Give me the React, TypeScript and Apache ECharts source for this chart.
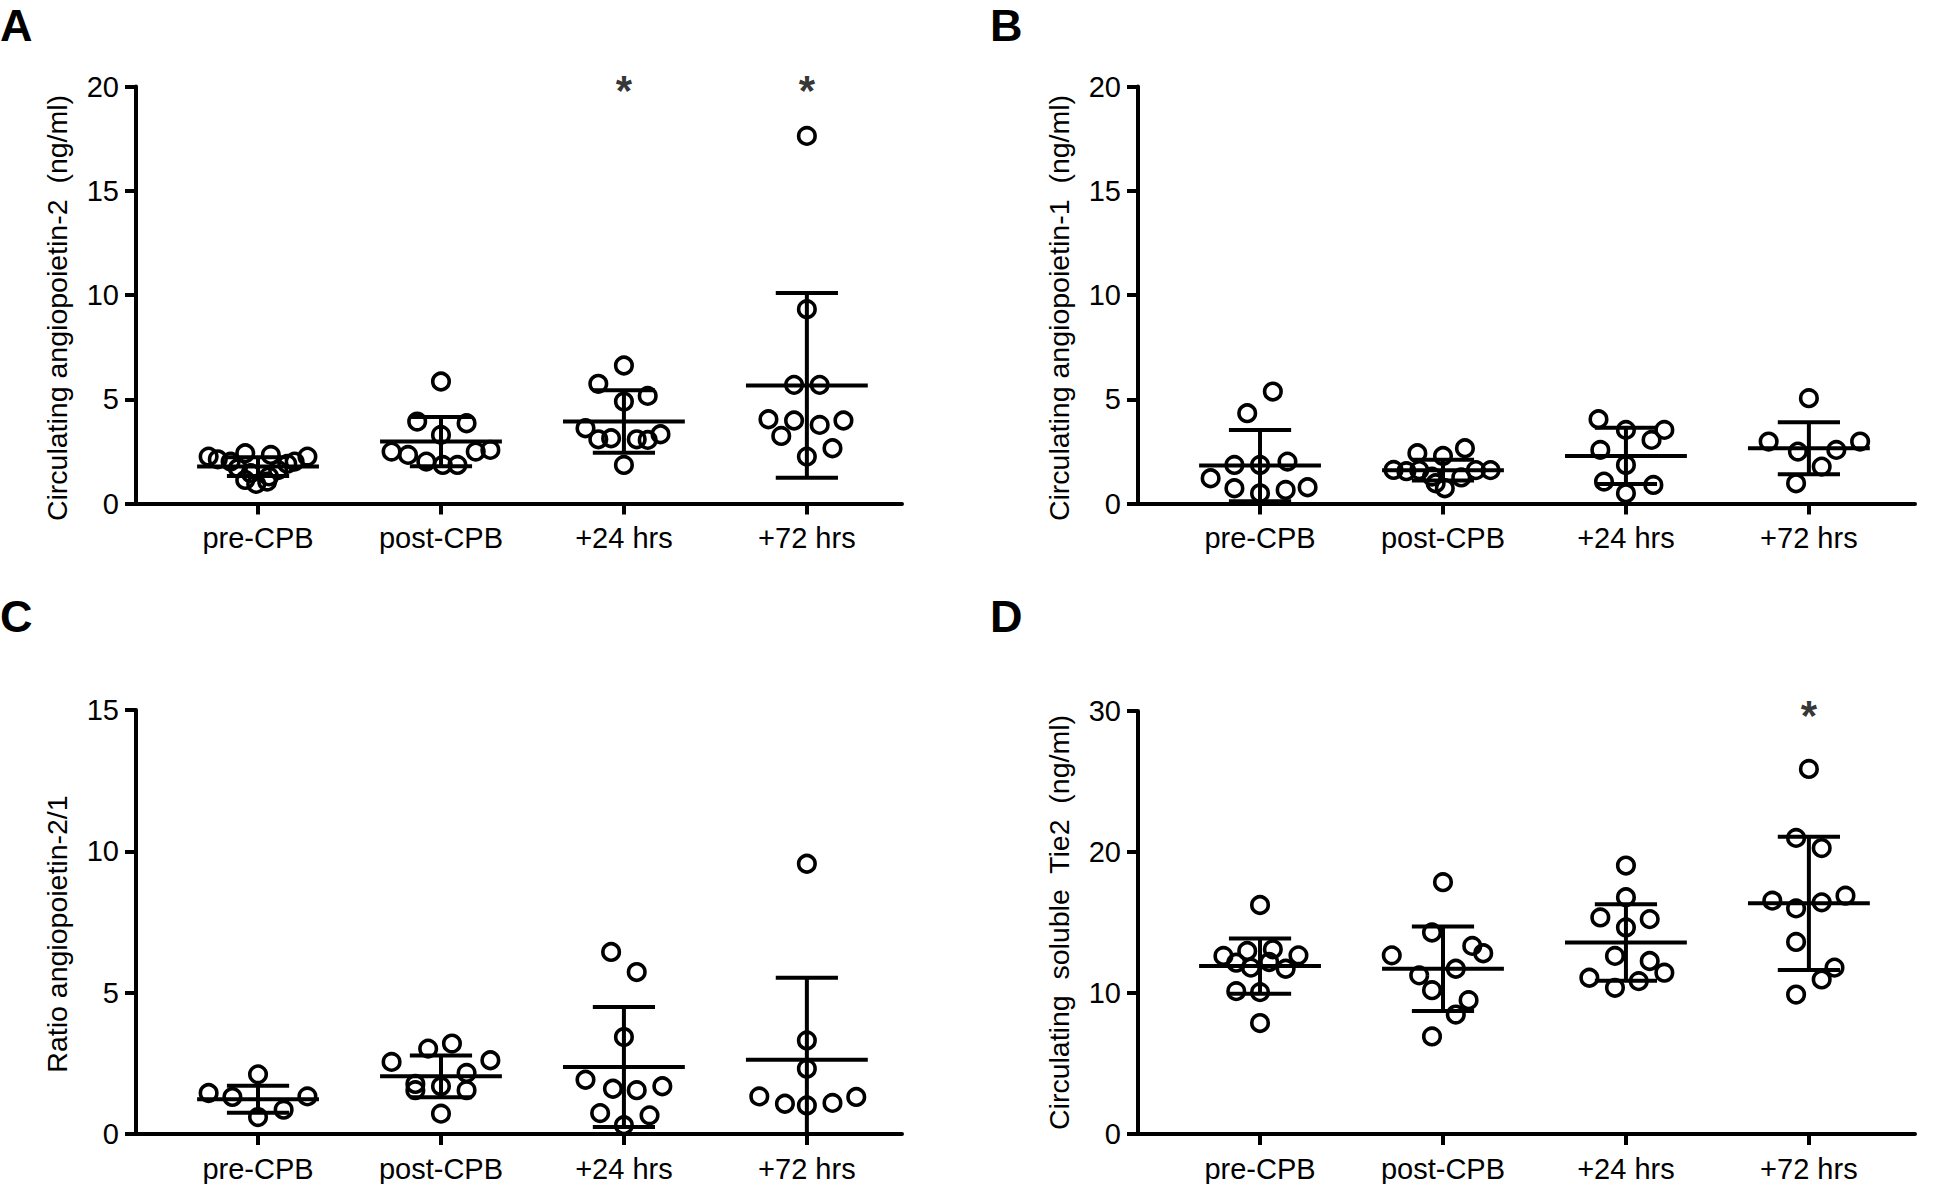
import React, { useEffect, useRef } from 'react';
import * as echarts from 'echarts';

const categories = ['pre-CPB', 'post-CPB', '+24 hrs', '+72 hrs'];

// Panel A: circulating angiopoietin-2 (ng/ml)
const ang2Values = [
  [2.25, 2.41, 2.33, 2.25, 2.12, 2.01, 2.01, 1.9, 1.69, 1.6, 1.45, 1.3, 1.13, 1.05, 0.94],
  [5.85, 3.93, 3.85, 3.29, 2.49, 2.33, 2.49, 2.57, 2.01, 1.85, 1.85],
  [6.62, 5.74, 5.16, 4.89, 3.61, 3.08, 3.13, 3.08, 3.05, 3.32, 1.85],
  [17.63, 9.32, 5.69, 5.69, 4.04, 3.98, 3.77, 3.98, 3.24, 2.65, 2.25],
];
const ang2Jitter = [
  [-0.27, -0.07, 0.07, 0.27, -0.22, -0.15, 0.2, 0.16, -0.11, 0.11, -0.04, 0.06, -0.07, 0.05, -0.01],
  [0, -0.13, 0.14, 0, -0.27, -0.18, 0.19, 0.27, -0.08, 0.01, 0.09],
  [0, -0.14, 0.13, 0, -0.21, -0.14, -0.07, 0.07, 0.13, 0.2, 0],
  [0, 0, -0.07, 0.07, -0.21, -0.07, 0.07, 0.2, -0.14, 0.14, 0],
];
const ang2Mean = [1.77, 2.97, 3.93, 5.66];
const ang2Sd = [0.45, 1.18, 1.5, 4.43];
const ang2Sig = ['', '', '*', '*'];

// Panel B: circulating angiopoietin-1 (ng/ml)
const ang1Values = [
  [5.37, 4.33, 1.85, 1.85, 2.01, 1.21, 0.73, 0.49, 0.65, 0.78],
  [2.65, 2.41, 2.28, 1.61, 1.55, 1.6, 1.6, 1.6, 1.29, 1.25, 0.97, 0.73],
  [4.04, 3.53, 3.53, 3.05, 2.57, 1.85, 1.05, 0.89, 0.49],
  [5.05, 2.97, 2.97, 2.49, 2.57, 1.77, 0.97],
];
const ang1Jitter = [
  [0.07, -0.07, -0.14, 0, 0.15, -0.27, -0.14, 0, 0.14, 0.26],
  [0.12, -0.14, 0, -0.27, -0.2, -0.13, 0.18, 0.26, -0.06, 0.1, -0.04, 0.01],
  [-0.15, 0, 0.21, 0.14, -0.14, 0, -0.12, 0.15, 0],
  [0, -0.22, 0.28, -0.06, 0.15, 0.07, -0.07],
];
const ang1Mean = [1.82, 1.6, 2.28, 2.65];
const ang1Sd = [1.71, 0.5, 1.35, 1.25];
const ang1Sig = ['', '', '', ''];

// Panel C: ratio angiopoietin-2/1
const ratioValues = [
  [2.11, 1.45, 1.31, 1.33, 0.86, 0.6],
  [3.2, 3.02, 2.61, 2.55, 2.16, 1.55, 1.77, 1.55, 1.69, 0.72],
  [6.44, 5.73, 3.43, 1.92, 1.6, 1.55, 1.69, 0.74, 0.66, 0.31],
  [9.56, 3.31, 2.31, 1.33, 1.07, 1.01, 1.1, 1.31],
];
const ratioJitter = [
  [0, -0.27, -0.14, 0.27, 0.14, 0],
  [0.06, -0.07, 0.27, -0.27, 0.14, 0.14, -0.14, -0.14, 0, 0],
  [-0.07, 0.07, 0, -0.21, -0.06, 0.07, 0.21, -0.13, 0.14, 0],
  [0, 0, 0, -0.26, -0.12, 0, 0.14, 0.27],
];
const ratioMean = [1.23, 2.04, 2.37, 2.63];
const ratioSd = [0.48, 0.74, 2.12, 2.9];
const ratioSig = ['', '', '', ''];

// Panel D: circulating soluble Tie2 (ng/ml)
const tie2Values = [
  [16.24, 12.63, 12.98, 13.1, 12.67, 12.15, 11.8, 12.2, 11.72, 10.13, 10.06, 7.87],
  [17.86, 14.29, 13.34, 12.82, 12.67, 11.72, 11.25, 10.2, 9.49, 8.47, 6.92],
  [19.04, 16.79, 15.36, 15.24, 14.65, 12.63, 12.27, 11.44, 11.08, 10.84, 10.37],
  [25.89, 21.0, 20.28, 16.55, 16.9, 16.43, 16.0, 13.62, 11.8, 10.96, 9.89],
];
const tie2Jitter = [
  [0, -0.2, -0.07, 0.07, 0.21, -0.13, -0.05, 0.05, 0.14, -0.13, 0, 0],
  [0, -0.06, 0.16, 0.22, -0.28, 0.07, -0.13, -0.06, 0.14, 0.07, -0.06],
  [0, 0, -0.14, 0.13, 0, -0.06, 0.13, 0.21, -0.2, 0.07, -0.06],
  [0, -0.07, 0.07, -0.2, 0.2, 0.07, -0.07, -0.07, 0.14, 0.07, -0.07],
];
const tie2Mean = [11.91, 11.72, 13.58, 16.36];
const tie2Sd = [1.96, 3.0, 2.72, 4.72];
const tie2Sig = ['', '', '', '*'];

const yTitles = [
  'Circulating angiopoietin-2  (ng/ml)',
  'Circulating angiopoietin-1  (ng/ml)',
  'Ratio angiopoietin-2/1',
  'Circulating  soluble  Tie2  (ng/ml)',
];
const yMax = [20, 20, 15, 30];
const yInterval = [5, 5, 5, 10];
const panelLetters = ['A', 'B', 'C', 'D'];

const FONT = '"Liberation Sans", Arial, Helvetica, sans-serif';

const panels = [
  { values: ang2Values, jitter: ang2Jitter, mean: ang2Mean, sd: ang2Sd, sig: ang2Sig },
  { values: ang1Values, jitter: ang1Jitter, mean: ang1Mean, sd: ang1Sd, sig: ang1Sig },
  { values: ratioValues, jitter: ratioJitter, mean: ratioMean, sd: ratioSd, sig: ratioSig },
  { values: tie2Values, jitter: tie2Jitter, mean: tie2Mean, sd: tie2Sd, sig: tie2Sig },
];

const grids = [
  { left: 136, top: 86.5, width: 766, height: 417 },
  { left: 1138, top: 86.5, width: 777, height: 417 },
  { left: 136, top: 710, width: 766, height: 424 },
  { left: 1138, top: 711, width: 777, height: 423 },
];
const xMaxes = [3.52, 3.58, 3.52, 3.58];
const titlePad = [26, 26, 24, 0];
const letterPos = [
  { left: 0, top: 3 },
  { left: 990, top: 3 },
  { left: 0, top: 594 },
  { left: 990, top: 594 },
];

function buildOption() {
  const xAxis: any[] = [];
  const yAxis: any[] = [];
  const series: any[] = [];
  panels.forEach((p, k) => {
    xAxis.push({
      type: 'value',
      gridIndex: k,
      min: -0.667,
      max: xMaxes[k],
      splitLine: { show: false },
      axisLine: { show: true, onZero: false, lineStyle: { color: '#000', width: 4 } },
      axisTick: { show: true, customValues: [0, 1, 2, 3], length: 11, lineStyle: { color: '#000', width: 4 } },
      axisLabel: {
        show: true,
        customValues: [0, 1, 2, 3],
        formatter: (v: number) => categories[Math.round(v)] ?? '',
        color: '#000',
        fontSize: 29,
        fontFamily: FONT,
        margin: 20,
      },
    });
    yAxis.push({
      type: 'value',
      gridIndex: k,
      min: 0,
      max: yMax[k],
      interval: yInterval[k],
      name: yTitles[k],
      nameLocation: 'middle',
      nameGap: 65,
      nameTextStyle: {
        color: '#000',
        fontSize: 28.5,
        fontFamily: FONT,
        padding: [0, titlePad[k], 0, 0],
      },
      splitLine: { show: false },
      axisLine: { show: true, onZero: false, lineStyle: { color: '#000', width: 4 } },
      axisTick: { show: true, length: 11, lineStyle: { color: '#000', width: 4 } },
      axisLabel: { color: '#000', fontSize: 29, fontFamily: FONT, margin: 17 },
    });
    const pts: number[][] = [];
    p.values.forEach((arr, g) => {
      arr.forEach((v, j) => pts.push([g + p.jitter[g][j], v]));
    });
    series.push({
      type: 'scatter',
      xAxisIndex: k,
      yAxisIndex: k,
      data: pts,
      symbol: 'circle',
      symbolSize: 16.5,
      itemStyle: { color: 'rgba(0,0,0,0)', borderColor: '#000', borderWidth: 3.6, opacity: 1 },
      z: 3,
    });
    series.push({
      type: 'custom',
      xAxisIndex: k,
      yAxisIndex: k,
      data: p.mean.map((m, g) => [g, m, p.sd[g]]),
      z: 4,
      renderItem: (params: any, api: any) => {
        const x = api.value(0);
        const m = api.value(1);
        const s = api.value(2);
        const lowV = Math.max(m - s, 0);
        const pM = api.coord([x, m]);
        const pU = api.coord([x, m + s]);
        const pL = api.coord([x, lowV]);
        const half = api.coord([x + 0.333, m])[0] - pM[0];
        const cap = api.coord([x + 0.17, m])[0] - pM[0];
        const style = { stroke: '#000', lineWidth: 4, fill: null };
        const children: any[] = [
          { type: 'line', shape: { x1: pM[0], y1: pU[1], x2: pM[0], y2: pL[1] }, style },
          { type: 'line', shape: { x1: pM[0] - half, y1: pM[1], x2: pM[0] + half, y2: pM[1] }, style },
          { type: 'line', shape: { x1: pM[0] - cap, y1: pU[1], x2: pM[0] + cap, y2: pU[1] }, style },
        ];
        if (m - s >= 0) {
          children.push({ type: 'line', shape: { x1: pM[0] - cap, y1: pL[1], x2: pM[0] + cap, y2: pL[1] }, style });
        }
        return { type: 'group', children };
      },
    });
    const sigData = p.sig
      .map((s, g) => (s ? { value: [g, yMax[k]], label: { formatter: s } } : null))
      .filter((d) => d !== null);
    if (sigData.length) {
      series.push({
        type: 'scatter',
        xAxisIndex: k,
        yAxisIndex: k,
        data: sigData,
        symbolSize: 1,
        itemStyle: { color: 'rgba(0,0,0,0)' },
        label: {
          show: true,
          position: 'inside',
          color: '#000',
          fontSize: 42,
          fontWeight: 'bold',
          fontFamily: FONT,
          offset: [0, 4],
        },
        z: 5,
      });
    }
  });
  const graphic = panelLetters.map((t, k) => ({
    type: 'text',
    left: letterPos[k].left,
    top: letterPos[k].top,
    style: { text: t, fill: '#000', font: `bold 45px ${FONT}` },
  }));
  return {
    animation: false,
    backgroundColor: '#fff',
    grid: grids,
    xAxis,
    yAxis,
    series,
    graphic,
  };
}

export default function App() {
  const ref = useRef<HTMLDivElement>(null);
  useEffect(() => {
    if (!ref.current) return;
    const chart = echarts.init(ref.current, undefined, { renderer: 'svg' });
    chart.setOption(buildOption() as any);
    return () => chart.dispose();
  }, []);
  return (
    <div
      ref={ref}
      style={{ position: 'absolute', left: 0, top: 0, width: 1945, height: 1184, background: '#fff' }}
    />
  );
}
